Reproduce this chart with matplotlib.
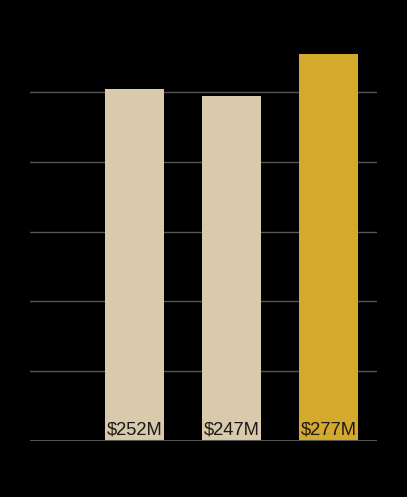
import matplotlib
matplotlib.use("Agg")
import matplotlib.pyplot as plt

# ── data ──────────────────────────────────────────────────────────────────
categories = ["A", "B", "C"]
values = [252, 247, 277]            # $M
labels = ["$252M", "$247M", "$277M"]
grid_ticks = [50, 100, 150, 200, 250]

# ── colours ───────────────────────────────────────────────────────────────
C_BG = "#000000"
C_BAR = ["#d8caab", "#d8caab", "#d5a92b"]
C_GRID = "#555555"
C_TEXT = "#1a1a1a"

fig = plt.figure(figsize=(4.07, 4.97), dpi=100, facecolor=C_BG)
ax = fig.add_axes([30 / 407, 1 - 441 / 497, 347 / 407, 419 / 497])
ax.set_facecolor(C_BG)

xs = list(range(len(categories)))
for y in grid_ticks:
    ax.axhline(y, color=C_GRID, lw=1, zorder=1)
ax.axhline(0, color=C_GRID, lw=2.2, zorder=3)

ax.bar(xs, values, width=0.61, color=C_BAR, zorder=2)
for x, lab in zip(xs, labels):
    ax.text(x, 2, lab, ha="center", va="bottom", fontsize=13.2,
            color=C_TEXT, family="Liberation Sans", zorder=4)

ax.set_xlim(-1.077, 2.5)
ax.set_ylim(0, 300)
ax.axis("off")

fig.savefig("out.png", dpi=100, facecolor=C_BG)
